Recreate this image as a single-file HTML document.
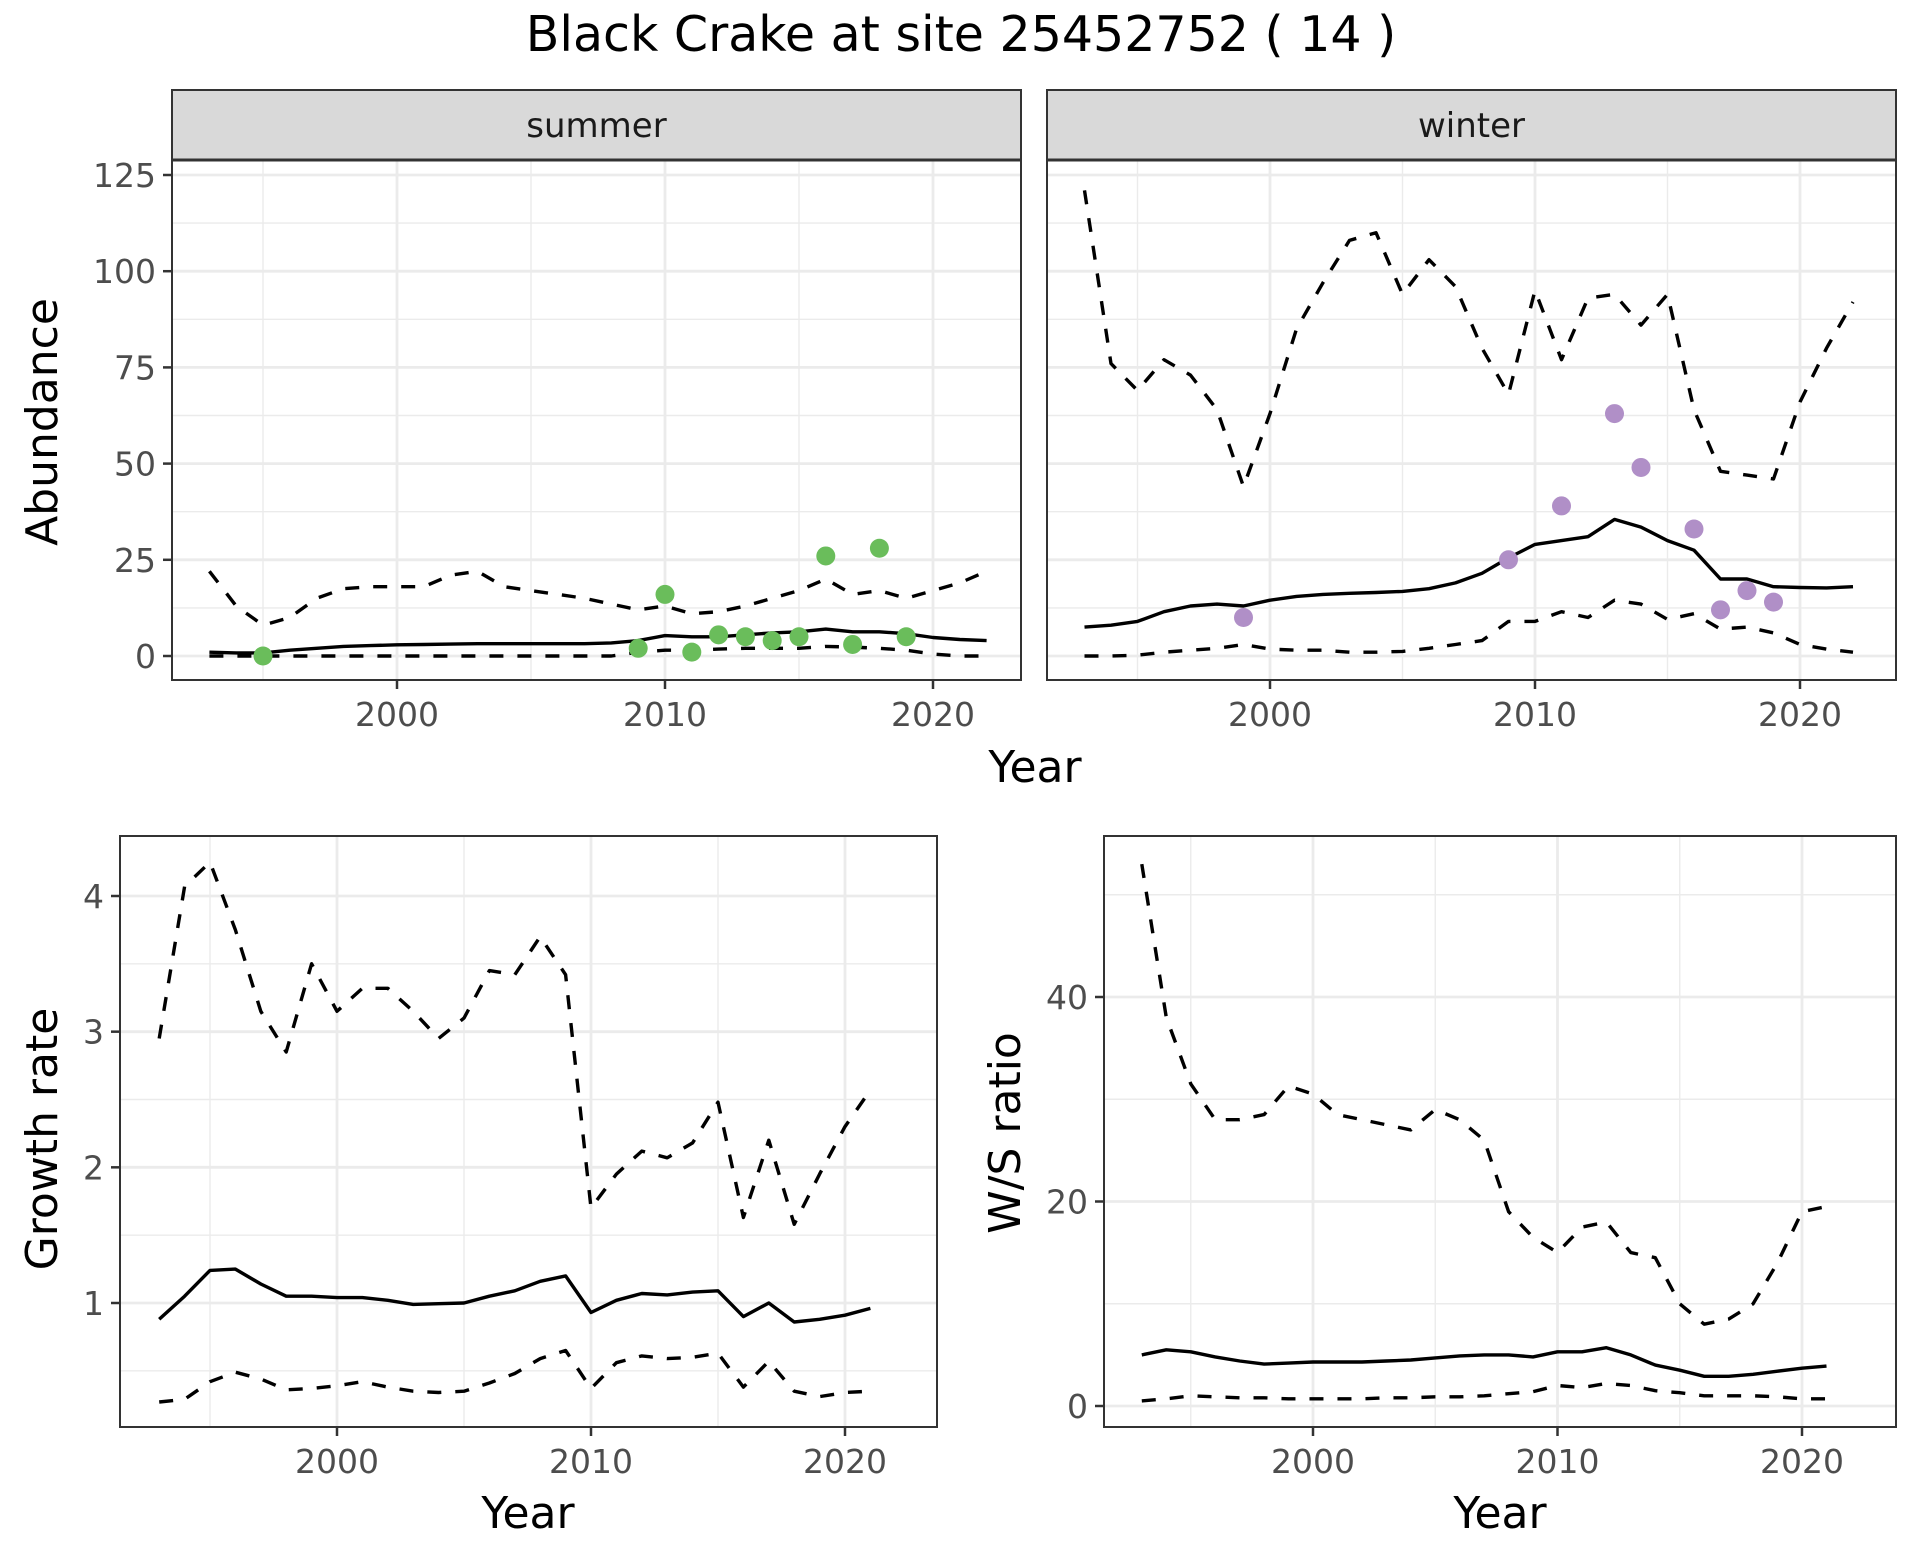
<!DOCTYPE html>
<html><head><meta charset="utf-8"><style>
body{margin:0;background:#fff}
svg{display:block;font-family:"DejaVu Sans","Liberation Sans",sans-serif}
</style></head><body>
<svg id="chart" width="1920" height="1560" viewBox="0 0 1920 1560" xmlns="http://www.w3.org/2000/svg">
<text x="961" y="51" font-size="49" text-anchor="middle" fill="#000">Black Crake at site 25452752 ( 14 )</text>
</svg>
<script>
const years = [];
for (let y = 1993; y <= 2022; y++) years.push(y);
const years2 = years.slice(0, 29);

const summerUpper = [22,13,8,10,15,17.5,18,18,18,21,22,18,17,16,15,13.5,12,13,11,11.5,13,15,17,20,16,17,15,17,19,22];
const summerMean = [1,0.8,0.8,1.5,2,2.5,2.7,2.9,3,3.1,3.2,3.2,3.2,3.2,3.2,3.4,4,5.3,5,5,5.5,6,6.3,7,6.3,6.3,5.8,4.8,4.3,4];
const summerLower = [0,0,0,0,0,0,0,0,0,0,0,0,0,0,0,0,1,1.5,1.5,1.8,2,2,2,2.5,2.3,2,1.5,0.5,0,0];
const summerObsYears = [1995,2009,2010,2011,2012,2013,2014,2015,2016,2017,2018,2019];
const summerObs = [0,2,16,1,5.5,5,4,5,26,3,28,5];

const winterUpper = [121,76,69,77,73,64,44,63,85,97,108,110,94,103,96,80,68,95,77,93,94,86,94,64,48,47,46,66,80,92];
const winterMean = [7.5,8,9,11.5,13,13.5,13,14.5,15.5,16,16.3,16.5,16.8,17.5,19,21.5,25.5,29,30,31,35.5,33.5,30,27.5,20,20,18,17.8,17.7,18];
const winterLower = [0,0,0.2,1,1.5,2,3,1.8,1.5,1.5,1,1,1.2,2,3,4,9,9,11.5,10,14.5,13.5,9.5,11,7,7.5,6,3,1.8,1];
const winterObsYears = [1999,2009,2011,2013,2014,2016,2017,2018,2019];
const winterObs = [10,25,39,63,49,33,12,17,14];

const growthUpper = [2.95,4.07,4.25,3.75,3.15,2.85,3.5,3.15,3.32,3.32,3.15,2.95,3.1,3.45,3.42,3.7,3.42,1.7,1.95,2.12,2.07,2.18,2.48,1.63,2.2,1.58,1.95,2.3,2.57];
const growthMean = [0.88,1.05,1.24,1.25,1.14,1.05,1.05,1.04,1.04,1.02,0.99,0.995,1.0,1.05,1.09,1.16,1.2,0.93,1.02,1.07,1.06,1.08,1.09,0.9,1.0,0.86,0.88,0.91,0.96];
const growthLower = [0.27,0.29,0.42,0.49,0.44,0.36,0.37,0.39,0.42,0.38,0.35,0.34,0.35,0.41,0.48,0.59,0.65,0.37,0.56,0.61,0.59,0.6,0.63,0.38,0.57,0.35,0.31,0.34,0.35];

const wsUpper = [53,38,31.5,28,28,28.5,31.3,30.5,28.5,28,27.5,27,29,28,26,19,16.5,15,17.5,18,15,14.5,10,8,8.5,10,14,19,19.5];
const wsMean = [5,5.5,5.3,4.8,4.4,4.1,4.2,4.3,4.3,4.3,4.4,4.5,4.7,4.9,5.0,5.0,4.8,5.3,5.3,5.7,5,4,3.5,2.9,2.9,3.1,3.4,3.7,3.9];
const wsLower = [0.5,0.7,1,0.9,0.8,0.8,0.7,0.7,0.7,0.7,0.8,0.8,0.9,0.9,1,1.2,1.4,2,1.8,2.2,2,1.5,1.3,1,1,1,0.9,0.7,0.7];

const xTicks = [2000,2010,2020];
const abTicks = [0,25,50,75,100,125];
const grTicks = [1,2,3,4];
const wsTicks = [0,20,40];

const svg = document.getElementById('chart');
const NS = 'http://www.w3.org/2000/svg';
function mk(tag, attrs, parent) {
  const e = document.createElementNS(NS, tag);
  for (const k in attrs) e.setAttribute(k, attrs[k]);
  (parent || svg).appendChild(e);
  return e;
}
function lin(d0, d1, r0, r1) { return v => r0 + (v - d0) * (r1 - r0) / (d1 - d0); }

function panel(cfg) {
  const g = mk('g', {});
  
  
  const {L, R, T, B, x, y} = cfg;
  mk('rect', {x: L, y: T, width: R - L, height: B - T, fill: '#fff'}, g);
  const xs = [];
  for (let v = 1990; v <= 2025; v += 5) xs.push(v);
  xs.forEach(v => { const px = x(v); if (px > L && px < R && v % 10 !== 0) mk('line', {x1: px, x2: px, y1: T, y2: B, stroke: '#ebebeb', 'stroke-width': 1.4}, g); });
  cfg.minorY.forEach(v => { const py = y(v); if (py > T && py < B) mk('line', {x1: L, x2: R, y1: py, y2: py, stroke: '#ebebeb', 'stroke-width': 1.4}, g); });
  xTicks.forEach(v => mk('line', {x1: x(v), x2: x(v), y1: T, y2: B, stroke: '#ebebeb', 'stroke-width': 2.8}, g));
  cfg.yTicks.forEach(v => mk('line', {x1: L, x2: R, y1: y(v), y2: y(v), stroke: '#ebebeb', 'stroke-width': 2.8}, g));
  const path = (xsArr, vals, dash, nm) => {
    const d = vals.map((v, i) => (i ? 'L' : 'M') + x(xsArr[i]).toFixed(1) + ',' + y(v).toFixed(1)).join('');
    const p = mk('path', {d, fill: 'none', stroke: '#000', 'stroke-width': 3.4, 'stroke-dasharray': dash ? '14,14' : 'none', 'stroke-linejoin': 'round'}, g);
    
    
  };
  path(cfg.yrs, cfg.upper, true, 'upper-bound-line');
  path(cfg.yrs, cfg.lower, true, 'lower-bound-line');
  path(cfg.yrs, cfg.mean, false, 'mean-line');
  if (cfg.obs) cfg.obs.forEach((v, i) => {
    const c = mk('circle', {cx: x(cfg.obsYears[i]), cy: y(v), r: 9.5, fill: cfg.color}, g);
    
    
  });
  mk('rect', {x: L, y: T, width: R - L, height: B - T, fill: 'none', stroke: '#333', 'stroke-width': 2}, g);
  if (cfg.showY) cfg.yTicks.forEach(v => {
    mk('line', {x1: L - 9, x2: L, y1: y(v), y2: y(v), stroke: '#333', 'stroke-width': 2.5}, g);
    const t = mk('text', {x: L - 16, y: y(v) + 12, 'font-size': 33, 'text-anchor': 'end', fill: '#4d4d4d'}, g);
    t.textContent = v;
    
    
  });
  xTicks.forEach(v => {
    mk('line', {x1: x(v), x2: x(v), y1: B, y2: B + 9, stroke: '#333', 'stroke-width': 2.5}, g);
    const t = mk('text', {x: x(v), y: B + 46, 'font-size': 33, 'text-anchor': 'middle', fill: '#4d4d4d'}, g);
    t.textContent = v;
    
    
  });
  if (cfg.strip) {
    mk('rect', {x: L, y: 90, width: R - L, height: 70, fill: '#d9d9d9', stroke: '#333', 'stroke-width': 2}, g);
    mk('line', {x1: L, x2: R, y1: 160, y2: 160, stroke: '#333', 'stroke-width': 3}, g);
    const t = mk('text', {x: (L + R) / 2, y: 137, 'font-size': 34, 'text-anchor': 'middle', fill: '#1a1a1a'}, g);
    t.textContent = cfg.strip;
    
    
  }
}

const abY = lin(0, 125, 656, 175);
panel({name: 'summer-panel', L: 172, R: 1021, T: 160, B: 680, x: lin(2000, 2020, 397, 933), y: abY, yTicks: abTicks, minorY: [12.5,37.5,62.5,87.5,112.5,137.5], yrs: years, upper: summerUpper, mean: summerMean, lower: summerLower, obs: summerObs, obsYears: summerObsYears, color: '#6abd5b', showY: true, strip: 'summer'});
panel({name: 'winter-panel', L: 1047, R: 1896, T: 160, B: 680, x: lin(2000, 2020, 1270, 1800), y: abY, yTicks: abTicks, minorY: [12.5,37.5,62.5,87.5,112.5,137.5], yrs: years, upper: winterUpper, mean: winterMean, lower: winterLower, obs: winterObs, obsYears: winterObsYears, color: '#b08fc7', showY: false, strip: 'winter'});
panel({name: 'growth-panel', L: 120, R: 937, T: 836, B: 1427, x: lin(2000, 2020, 337, 845), y: lin(1, 4, 1303, 896), yTicks: grTicks, minorY: [0.5,1.5,2.5,3.5], yrs: years2, upper: growthUpper, mean: growthMean, lower: growthLower, showY: true});
panel({name: 'ws-ratio-panel', L: 1104, R: 1896, T: 836, B: 1427, x: lin(2000, 2020, 1313, 1802), y: lin(0, 40, 1406, 997), yTicks: wsTicks, minorY: [10,30,50], yrs: years2, upper: wsUpper, mean: wsMean, lower: wsLower, showY: true});

function label(txt, x, y, rot, nm) {
  const t = mk('text', {x, y, 'font-size': 44, 'text-anchor': 'middle', fill: '#000', transform: rot ? `rotate(-90 ${x} ${y})` : ''});
  t.textContent = txt;
  
  
}
label('Year', 1035, 782, false, 'x-axis-title-top');
label('Abundance', 57, 422, true, 'y-axis-title-abundance');
label('Year', 528, 1528, false, 'x-axis-title-growth');
label('Growth rate', 57, 1139, true, 'y-axis-title-growth');
label('Year', 1500, 1528, false, 'x-axis-title-ws');
label('W/S ratio', 1020, 1133, true, 'y-axis-title-ws');
</script>
</body></html>
